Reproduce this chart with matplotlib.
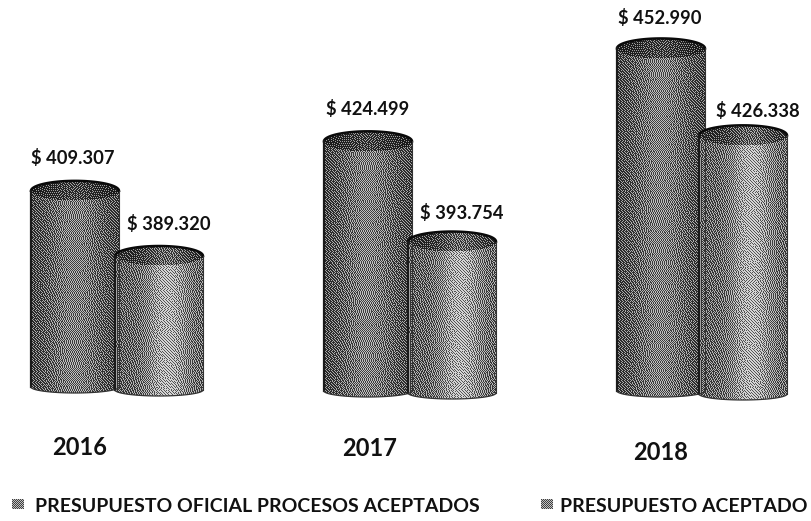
import numpy as np
import matplotlib
matplotlib.use('Agg')
import matplotlib.pyplot as plt
from matplotlib.patches import PathPatch
from matplotlib.path import Path

years = ['2016', '2017', '2018']
oficial = [409307, 424499, 452990]
aceptado = [389320, 393754, 426338]
series_names = ['PRESUPUESTO OFICIAL PROCESOS ACEPTADOS', 'PRESUPUESTO ACEPTADO']

# the scan is warped, so each cylinder keeps its own left edge and foot
x_left = [[31, 324, 617], [115, 408, 699]]
foot_px = [[393, 397, 397], [396, 399, 400]]
label_x = [[73, 368, 660], [169, 462, 758]]
label_y = [[158, 109, 18], [224, 213, 111]]

PX = 0.00326    # px per peso
V0 = 343000     # value at the px 397 line
W = 88
EH = 20         # top ellipse height in px
SAG = 6


def to_val(p):
    return V0 + (397 - p) / PX


def error_diffuse(shade):
    a = shade.copy()
    out = np.zeros_like(a)
    h, w = a.shape
    for j in range(h):
        for i in range(w):
            out[j, i] = 1.0 if a[j, i] > 0.5 else 0.0
            e = a[j, i] - out[j, i]
            if i + 1 < w:
                a[j, i + 1] += e * 7 / 16
            if j + 1 < h:
                if i > 0:
                    a[j + 1, i - 1] += e * 3 / 16
                a[j + 1, i] += e * 5 / 16
                if i + 1 < w:
                    a[j + 1, i + 1] += e * 1 / 16
    return out


def cylinder(ax, x0, top_v, foot_v, light):
    w = W
    eh_v = EH / PX
    sag_v = SAG / PX
    xc = x0 + w / 2
    rim_v = top_v - eh_v / 2
    corner_v = foot_v + sag_v
    t = np.linspace(0, np.pi, 60)
    xs = xc + w / 2 * np.cos(t)
    top_curve = rim_v + eh_v / 2 * np.sin(t)
    foot_curve = corner_v - sag_v * np.sin(t)
    outline = Path(np.c_[np.r_[xs, xs[::-1]], np.r_[top_curve, foot_curve[::-1]]])

    h_px = int((top_v - foot_v) * PX) + 2
    u = np.linspace(0, 1, w)
    if light:
        shade = 0.40 + 0.27 * np.exp(-((u - 0.6) / 0.24) ** 2)
    else:
        shade = 0.30 + 0.20 * np.exp(-((u - 0.5) / 0.33) ** 2)
    img = np.tile(shade, (h_px, 1))
    # darker inside of the mouth
    yy, xx = np.mgrid[0:h_px, 0:w]
    inside = ((xx - w / 2) / (w / 2)) ** 2 + ((yy - EH / 2) / (EH / 2)) ** 2 < 1
    img[inside] *= 0.62
    img = 0.5 * error_diffuse(img) + 0.5 * img

    im = ax.imshow(img, cmap='gray', vmin=0, vmax=1, aspect='auto', interpolation='nearest',
                   extent=[x0, x0 + w, foot_v, top_v], zorder=3)
    patch = PathPatch(outline, transform=ax.transData, fc='none', ec='none')
    ax.add_patch(patch)
    im.set_clip_path(patch)

    ax.plot(xs, top_curve, color='#0a0a0a', lw=1.8, zorder=4)
    ax.plot([x0, x0], [rim_v, corner_v], color='#1a1a1a', lw=1.6, zorder=4)
    ax.plot([x0 + w, x0 + w], [rim_v, corner_v], color='#333333', lw=0.8, zorder=4)
    ax.plot(xs, foot_curve, color='#333333', lw=0.9, zorder=4)


fig = plt.figure(figsize=(8.11, 5.21), dpi=100)
ax = fig.add_axes([0, 0, 1, 1])
ax.axis('off')

font = 'Lato'
for s, vals in enumerate([oficial, aceptado]):
    for i, v in enumerate(vals):
        cylinder(ax, x_left[s][i], v, to_val(foot_px[s][i]), s == 1)
        txt = '$ ' + format(v, ',').replace(',', '.')
        ax.text(label_x[s][i], to_val(label_y[s][i]), txt, ha='center', va='center',
                fontsize=13.2, fontweight='bold', family=font, color='#111111', zorder=5)

year_x = [80, 370, 661]
year_y = [447, 448, 452]
for x, py, y in zip(year_x, year_y, years):
    ax.text(x, to_val(py), y, ha='center', va='center', fontsize=17, fontweight='bold', family=font, color='#111111')

legend_x = [12, 541]
text_x = [35, 560]
swatch = 0.5 * error_diffuse(np.full((10, 12), 0.5)) + 0.25
for x, tx, name in zip(legend_x, text_x, series_names):
    ax.imshow(swatch, cmap='gray', vmin=0, vmax=1, aspect='auto', interpolation='nearest',
              extent=[x, x + 12, to_val(509), to_val(499)], zorder=3)
    ax.text(tx, to_val(506), name, ha='left', va='center', fontsize=14, fontweight='bold', family=font, color='#111111')

ax.set_xlim(0, 811)
ax.set_ylim(to_val(521), to_val(0))
fig.savefig('out.png', dpi=100)
